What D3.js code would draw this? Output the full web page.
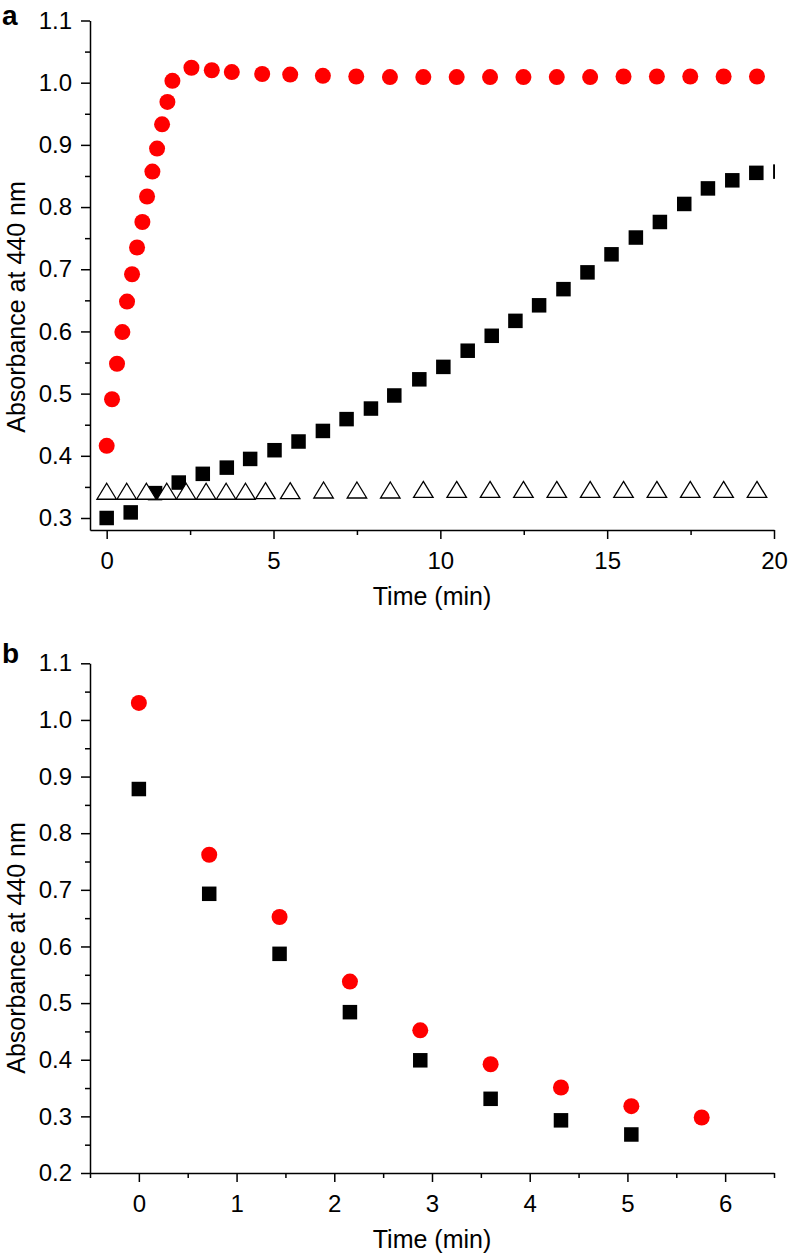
<!DOCTYPE html>
<html>
<head>
<meta charset="utf-8">
<script src="https://cdn.jsdelivr.net/npm/d3@7"></script>
<style>
  html, body { margin: 0; padding: 0; background: #fff; }
  svg { display: block; }
  text { font-family: "Liberation Sans", Arial, sans-serif; fill: #000; }
</style>
</head>
<body>
<svg id="chart" width="788" height="1253"></svg>
<script>
// ---------- Panel a data ----------
const aRedTime = [0, 0.16, 0.31, 0.47, 0.61, 0.76, 0.91, 1.07, 1.21, 1.37, 1.51, 1.66, 1.82, 1.97,
  2.54, 3.15, 3.75, 4.66, 5.50, 6.48, 7.48, 8.49, 9.49, 10.49, 11.49, 12.49, 13.49, 14.49,
  15.49, 16.49, 17.49, 18.49, 19.49];
const aRedAbs = [0.416, 0.491, 0.548, 0.599, 0.648, 0.692, 0.735, 0.776, 0.817, 0.857, 0.894, 0.933, 0.969, 1.003,
  1.024, 1.020, 1.017, 1.014, 1.013, 1.011, 1.010, 1.009, 1.009, 1.009, 1.009, 1.009, 1.009, 1.009,
  1.010, 1.010, 1.010, 1.010, 1.010];
const aBlackTime = [0, 0.72, 1.45, 2.16, 2.88, 3.60, 4.30, 5.03, 5.75, 6.48, 7.19, 7.92, 8.62, 9.37,
  10.09, 10.82, 11.54, 12.25, 12.96, 13.69, 14.41, 15.13, 15.86, 16.58, 17.31, 18.02, 18.75, 19.47, 20.19];
const aBlackAbs = [0.300, 0.309, 0.340, 0.357, 0.371, 0.381, 0.395, 0.409, 0.423, 0.440, 0.459, 0.476, 0.497, 0.523,
  0.543, 0.569, 0.593, 0.617, 0.642, 0.668, 0.695, 0.724, 0.751, 0.776, 0.805, 0.830, 0.843, 0.855, 0.857];
const aTriTime = [0, 0.6, 1.19, 1.8, 2.38, 2.98, 3.58, 4.16, 4.76, 5.5, 6.5, 7.5, 8.5, 9.49,
  10.49, 11.49, 12.49, 13.49, 14.49, 15.49, 16.49, 17.49, 18.49, 19.49];
const aTriAbs = [0.343, 0.343, 0.343, 0.343, 0.343, 0.343, 0.343, 0.343, 0.344, 0.344, 0.345, 0.345, 0.345, 0.346,
  0.346, 0.346, 0.346, 0.346, 0.346, 0.346, 0.346, 0.346, 0.346, 0.346];
const aXTicks = [0, 5, 10, 15, 20];
const aYTicks = [0.3, 0.4, 0.5, 0.6, 0.7, 0.8, 0.9, 1.0, 1.1];

// ---------- Panel b data ----------
const bRedTime = [0, 0.72, 1.44, 2.16, 2.88, 3.60, 4.32, 5.04, 5.76];
const bRedAbs = [1.030, 0.762, 0.652, 0.538, 0.452, 0.392, 0.351, 0.318, 0.298];
const bBlackTime = [0, 0.72, 1.44, 2.16, 2.88, 3.60, 4.32, 5.04];
const bBlackAbs = [0.878, 0.693, 0.587, 0.484, 0.399, 0.331, 0.293, 0.268];
const bXTicks = [0, 1, 2, 3, 4, 5, 6];
const bYTicks = [0.2, 0.3, 0.4, 0.5, 0.6, 0.7, 0.8, 0.9, 1.0, 1.1];

const yTitle = "Absorbance at 440 nm";
const xTitle = "Time (min)";

const svg = d3.select("#chart");
const RED = "#ff0000";

function panel(cfg) {
  const g = svg.append("g");
  const x = d3.scaleLinear().domain(cfg.xDomain).range([90, 774]);
  const y = d3.scaleLinear().domain(cfg.yDomain).range(cfg.yRange);
  const x0 = 90, yb = cfg.yRange[0];

  // clip
  const cid = "clip" + cfg.id;
  svg.append("clipPath").attr("id", cid).append("rect")
    .attr("x", 90).attr("y", 0).attr("width", 685).attr("height", yb);

  // minor ticks
  g.append("g").attr("transform", `translate(0,${yb})`)
    .call(d3.axisBottom(x).tickValues(cfg.xMinor).tickSize(5).tickSizeOuter(0).tickFormat(""))
    .call(s => s.select(".domain").remove())
    .call(s => s.selectAll("line").attr("stroke-width", 1.5));
  g.append("g").attr("transform", `translate(${x0},0)`)
    .call(d3.axisLeft(y).tickValues(cfg.yMinor).tickSize(5).tickSizeOuter(0).tickFormat(""))
    .call(s => s.select(".domain").remove())
    .call(s => s.selectAll("line").attr("stroke-width", 1.5));

  // major axes
  g.append("g").attr("transform", `translate(0,${yb})`)
    .call(d3.axisBottom(x).tickValues(cfg.xTicks).tickSize(9).tickPadding(13).tickSizeOuter(0).tickFormat(d3.format("d")))
    .call(s => s.selectAll("line,path").attr("stroke-width", 1.5))
    .call(s => s.selectAll("text").attr("font-size", 24).style("font-family", '"Liberation Sans", Arial, sans-serif'));
  g.append("g").attr("transform", `translate(${x0},0)`)
    .call(d3.axisLeft(y).tickValues(cfg.yTicks).tickSize(9).tickPadding(9).tickSizeOuter(0).tickFormat(d3.format(".1f")))
    .call(s => s.selectAll("line,path").attr("stroke-width", 1.5))
    .call(s => s.selectAll("text").attr("font-size", 24).style("font-family", '"Liberation Sans", Arial, sans-serif'));

  // titles
  g.append("text").attr("x", 432).attr("y", yb + 75).attr("text-anchor", "middle")
    .attr("font-size", 25).text(xTitle);
  g.append("text").attr("transform", `translate(25,${cfg.yTitleY}) rotate(-90)`)
    .attr("text-anchor", "middle").attr("font-size", 25).text(yTitle);
  g.append("text").attr("x", 2).attr("y", cfg.labelY).attr("font-size", 28)
    .attr("font-weight", "bold").text(cfg.label);

  const marks = g.append("g").attr("clip-path", `url(#${cid})`);
  // red circles
  marks.selectAll("circle.red").data(d3.zip(cfg.redT, cfg.redA)).join("circle")
    .attr("cx", d => x(d[0])).attr("cy", d => y(d[1])).attr("r", 8).attr("fill", RED);
  // black squares
  const s = 14.5;
  marks.selectAll("rect.blk").data(d3.zip(cfg.blkT, cfg.blkA)).join("rect")
    .attr("x", d => x(d[0]) - s / 2).attr("y", d => y(d[1]) - s / 2)
    .attr("width", s).attr("height", s).attr("fill", "#000");
  // open triangles
  if (cfg.triT) {
    const bw = 19.5, h = 16;
    marks.selectAll("path.tri").data(d3.zip(cfg.triT, cfg.triA)).join("path")
      .attr("d", d => {
        const cx = x(d[0]), cy = y(d[1]);
        return `M${cx},${cy - h / 2}L${cx + bw / 2},${cy + h / 2}L${cx - bw / 2},${cy + h / 2}Z`;
      })
      .attr("fill", "#fff").attr("stroke", "#000").attr("stroke-width", 1.3);
  }
}

panel({
  id: "a", label: "a", labelY: 25,
  xDomain: [-0.5, 20], yDomain: [0.2807, 1.1], yRange: [530, 20.5],
  xTicks: aXTicks, yTicks: aYTicks,
  xMinor: [2.5, 7.5, 12.5, 17.5],
  yMinor: [0.35, 0.45, 0.55, 0.65, 0.75, 0.85, 0.95, 1.05],
  yTitleY: 307,
  redT: aRedTime, redA: aRedAbs, blkT: aBlackTime, blkA: aBlackAbs,
  triT: aTriTime, triA: aTriAbs
});

panel({
  id: "b", label: "b", labelY: 663,
  xDomain: [-0.5, 6.5], yDomain: [0.2, 1.1], yRange: [1173, 663.3],
  xTicks: bXTicks, yTicks: bYTicks,
  xMinor: [-0.5, 0.5, 1.5, 2.5, 3.5, 4.5, 5.5, 6.5],
  yMinor: [0.25, 0.35, 0.45, 0.55, 0.65, 0.75, 0.85, 0.95, 1.05],
  yTitleY: 948,
  redT: bRedTime, redA: bRedAbs, blkT: bBlackTime, blkA: bBlackAbs
});
</script>
</body>
</html>
